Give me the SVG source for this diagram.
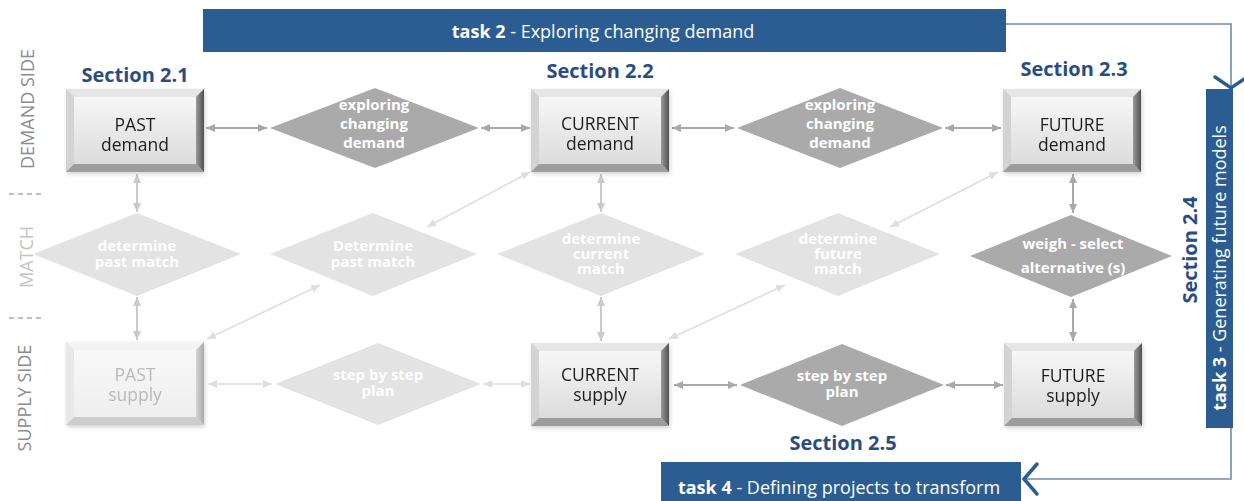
<svg xmlns="http://www.w3.org/2000/svg" xmlns:xlink="http://www.w3.org/1999/xlink" width="1244" height="501" viewBox="0 0 1244 501">
<style>
  .bar { fill: #2b5d93; }
  .bartxt { font-family: "Open Sans", "Liberation Sans", sans-serif; font-size: 18px; fill: #ffffff; }
  .sec { font-family: "Open Sans", "Liberation Sans", sans-serif; font-size: 20px; font-weight: bold; fill: #2a4c82; }
  .side { font-family: "Open Sans", "Liberation Sans", sans-serif; font-size: 18px; fill: #8c8c8c; }
  .side.light { fill: #c4c4c4; }
  .boxtxt { font-family: "Open Sans", "Liberation Sans", sans-serif; font-size: 17.5px; fill: #1e1e1e; text-anchor: middle; }
  .boxtxt.faded { fill: #b9b9b9; }
  .dtxt { font-family: "Open Sans", "Liberation Sans", sans-serif; font-size: 15px; font-weight: bold; fill: #ffffff; text-anchor: middle; }
  .dia-dark { fill: #aaaaaa; }
  .dia-light { fill: #e3e3e3; }
  .a-dark { stroke: #a9a9a9; stroke-width: 2; fill: none; marker-start: url(#mDark); marker-end: url(#mDark); }
  .a-mid { stroke: #cacaca; stroke-width: 2; fill: none; marker-start: url(#mMid); marker-end: url(#mMid); }
  .a-light { stroke: #dedede; stroke-width: 1.6; fill: none; marker-start: url(#mLight); marker-end: url(#mLight); }
  .blue-line { stroke: #6f8ab2; stroke-width: 1.6; fill: none; }
  .chev { stroke: #2b5d93; stroke-width: 3.5; fill: none; stroke-linecap: round; stroke-linejoin: miter; }
  .dash { stroke: #a8a8a8; stroke-width: 1.5; stroke-dasharray: 5 4; }
</style>
<defs>
  <marker id="mDark" markerUnits="userSpaceOnUse" markerWidth="10" markerHeight="8" refX="9" refY="4" orient="auto-start-reverse">
    <path d="M0,0 L9,4 L0,8 z" fill="#a9a9a9"/>
  </marker>
  <marker id="mMid" markerUnits="userSpaceOnUse" markerWidth="10" markerHeight="8" refX="9" refY="4" orient="auto-start-reverse">
    <path d="M0,0 L9,4 L0,8 z" fill="#cacaca"/>
  </marker>
  <marker id="mLight" markerUnits="userSpaceOnUse" markerWidth="10" markerHeight="8" refX="9" refY="4" orient="auto-start-reverse">
    <path d="M0,0 L9,4 L0,8 z" fill="#dedede"/>
  </marker>
  <linearGradient id="face" x1="0" y1="0" x2="0" y2="1">
    <stop offset="0" stop-color="#f6f6f6"/>
    <stop offset="1" stop-color="#dcdcdc"/>
  </linearGradient>
  <linearGradient id="faceF" x1="0" y1="0" x2="0" y2="1">
    <stop offset="0" stop-color="#f8f8f8"/>
    <stop offset="1" stop-color="#eeeeee"/>
  </linearGradient>
  <linearGradient id="rightB" x1="0" y1="0" x2="1" y2="0">
    <stop offset="0" stop-color="#9a9a9a"/>
    <stop offset="1" stop-color="#505050"/>
  </linearGradient>
  <linearGradient id="rightBF" x1="0" y1="0" x2="1" y2="0">
    <stop offset="0" stop-color="#d4d4d4"/>
    <stop offset="1" stop-color="#aaaaaa"/>
  </linearGradient>
  <filter id="shadow" x="-10%" y="-10%" width="125%" height="130%">
    <feDropShadow dx="1" dy="2" stdDeviation="2" flood-color="#000" flood-opacity="0.18"/>
  </filter>
  <g id="bevel">
    <rect x="0" y="0" width="138" height="83" fill="#cfcfcf"/>
    <polygon points="0,0 138,0 130,8 8,8" fill="#e6e6e6"/>
    <polygon points="0,0 8,8 8,75 0,83" fill="#d3d3d3"/>
    <polygon points="138,0 138,83 130,75 130,8" fill="url(#rightB)"/>
    <polygon points="0,83 138,83 130,75 8,75" fill="#9c9c9c"/>
    <rect x="8" y="8" width="122" height="67" fill="url(#face)"/>
  </g>
  <g id="bevelF">
    <rect x="0" y="0" width="138" height="83" fill="#e6e6e6"/>
    <polygon points="0,0 138,0 130,8 8,8" fill="#f3f3f3"/>
    <polygon points="0,0 8,8 8,75 0,83" fill="#e8e8e8"/>
    <polygon points="138,0 138,83 130,75 130,8" fill="url(#rightBF)"/>
    <polygon points="0,83 138,83 130,75 8,75" fill="#cdcdcd"/>
    <rect x="8" y="8" width="122" height="67" fill="url(#faceF)"/>
  </g>
</defs>

<rect width="1244" height="501" fill="#ffffff"/>

<!-- side labels -->
<g id="side-labels">
  <text class="side" transform="translate(34,109) rotate(-90)" text-anchor="middle">DEMAND SIDE</text>
  <text class="side light" transform="translate(33,257) rotate(-90)" text-anchor="middle">MATCH</text>
  <text class="side" transform="translate(31,398) rotate(-90)" text-anchor="middle">SUPPLY SIDE</text>
  <line class="dash" x1="9" y1="194" x2="42" y2="194"/>
  <line class="dash" x1="9" y1="318" x2="42" y2="318"/>
</g>

<!-- connectors -->
<g id="connectors">
  <line class="a-dark" x1="206" y1="128" x2="267" y2="128"/>
  <line class="a-dark" x1="481" y1="128" x2="530" y2="128"/>
  <line class="a-dark" x1="672" y1="128" x2="734" y2="128"/>
  <line class="a-dark" x1="945" y1="128" x2="1001" y2="128"/>

  <line class="a-mid" x1="137" y1="174" x2="137" y2="212"/>
  <line class="a-mid" x1="137" y1="297" x2="137" y2="340"/>
  <line class="a-mid" x1="601" y1="174" x2="601" y2="212"/>
  <line class="a-mid" x1="601" y1="297" x2="601" y2="341"/>
  <line class="a-dark" x1="1073" y1="174" x2="1073" y2="213"/>
  <line class="a-dark" x1="1073" y1="299" x2="1073" y2="341"/>

  <line class="a-light" x1="530" y1="172" x2="427" y2="227"/>
  <line class="a-light" x1="207" y1="339" x2="320" y2="285"/>
  <line class="a-light" x1="998" y1="172" x2="890" y2="227"/>
  <line class="a-light" x1="669" y1="339" x2="785" y2="285"/>

  <line class="a-light" x1="208" y1="384" x2="272" y2="384"/>
  <line class="a-light" x1="483" y1="384" x2="530" y2="384"/>
  <line class="a-dark" x1="674" y1="385" x2="737" y2="385"/>
  <line class="a-dark" x1="946" y1="385" x2="1003" y2="385"/>

  <polyline class="blue-line" points="1006,24 1231,24 1231,86"/>
  <polyline class="chev" points="1215,77 1231,88 1247,77"/>
  <polyline class="blue-line" points="1231,428 1231,479 1024,479"/>
  <polyline class="chev" points="1037,464 1024,479 1037,494"/>
</g>

<!-- task bars -->
<g id="task2">
  <rect class="bar" x="203" y="9" width="803" height="43"/>
  <text class="bartxt" x="603" y="38" text-anchor="middle"><tspan font-weight="bold">task 2</tspan> - Exploring changing demand</text>
</g>
<g id="task3">
  <rect class="bar" x="1206" y="89" width="27" height="339"/>
  <text class="bartxt" transform="translate(1226,268) rotate(-90)" text-anchor="middle" font-size="16.3"><tspan font-weight="bold">task 3</tspan> - Generating future models</text>
</g>
<g id="task4">
  <rect class="bar" x="661" y="462" width="360" height="39"/>
  <text class="bartxt" x="839" y="494" text-anchor="middle"><tspan font-weight="bold">task 4</tspan> - Defining projects to transform</text>
</g>

<!-- section labels -->
<g id="sections">
  <text class="sec" x="135" y="82" text-anchor="middle">Section 2.1</text>
  <text class="sec" x="600" y="78" text-anchor="middle">Section 2.2</text>
  <text class="sec" x="1074" y="76" text-anchor="middle">Section 2.3</text>
  <text class="sec" transform="translate(1197,250) rotate(-90)" text-anchor="middle" font-size="21">Section 2.4</text>
  <text class="sec" x="843" y="450" text-anchor="middle">Section 2.5</text>
</g>

<!-- boxes -->
<g id="past-demand" filter="url(#shadow)">
  <use href="#bevel" x="66" y="89"/>
  <text class="boxtxt" x="135" y="131">PAST</text>
  <text class="boxtxt" x="135" y="151">demand</text>
</g>
<g id="current-demand" filter="url(#shadow)">
  <use href="#bevel" x="531" y="89"/>
  <text class="boxtxt" x="600" y="130">CURRENT</text>
  <text class="boxtxt" x="600" y="150">demand</text>
</g>
<g id="future-demand" filter="url(#shadow)">
  <use href="#bevel" x="1003" y="89"/>
  <text class="boxtxt" x="1072" y="131">FUTURE</text>
  <text class="boxtxt" x="1072" y="151">demand</text>
</g>
<g id="past-supply" filter="url(#shadow)">
  <use href="#bevelF" x="66" y="342"/>
  <text class="boxtxt faded" x="135" y="381">PAST</text>
  <text class="boxtxt faded" x="135" y="401">supply</text>
</g>
<g id="current-supply" filter="url(#shadow)">
  <use href="#bevel" x="531" y="343"/>
  <text class="boxtxt" x="600" y="381">CURRENT</text>
  <text class="boxtxt" x="600" y="401">supply</text>
</g>
<g id="future-supply" filter="url(#shadow)">
  <use href="#bevel" x="1004" y="343"/>
  <text class="boxtxt" x="1073" y="382">FUTURE</text>
  <text class="boxtxt" x="1073" y="402">supply</text>
</g>

<!-- diamonds -->
<g id="explore-1">
  <polygon class="dia-dark" points="270,128 375,88 479,128 375,168"/>
  <text class="dtxt" x="374" y="110">exploring</text>
  <text class="dtxt" x="374" y="129">changing</text>
  <text class="dtxt" x="374" y="148">demand</text>
</g>
<g id="explore-2">
  <polygon class="dia-dark" points="737,128 840,88 943,128 840,168"/>
  <text class="dtxt" x="840" y="110">exploring</text>
  <text class="dtxt" x="840" y="129">changing</text>
  <text class="dtxt" x="840" y="148">demand</text>
</g>
<g id="match-past-1">
  <polygon class="dia-light" points="33,254 137,213 241,254 137,296"/>
  <text class="dtxt" x="137" y="251">determine</text>
  <text class="dtxt" x="137" y="267">past match</text>
</g>
<g id="match-past-2">
  <polygon class="dia-light" points="270,254 373,213 477,254 373,296"/>
  <text class="dtxt" x="373" y="251">Determine</text>
  <text class="dtxt" x="373" y="267">past match</text>
</g>
<g id="match-current">
  <polygon class="dia-light" points="497,254 601,213 705,254 601,296"/>
  <text class="dtxt" x="601" y="244">determine</text>
  <text class="dtxt" x="601" y="259">current</text>
  <text class="dtxt" x="601" y="274">match</text>
</g>
<g id="match-future">
  <polygon class="dia-light" points="735,254 838,213 940,254 838,296"/>
  <text class="dtxt" x="838" y="244">determine</text>
  <text class="dtxt" x="838" y="259">future</text>
  <text class="dtxt" x="838" y="274">match</text>
</g>
<g id="weigh-select">
  <polygon class="dia-dark" points="970,256 1071,215 1172,256 1071,297"/>
  <text class="dtxt" x="1073" y="249">weigh - select</text>
  <text class="dtxt" x="1073" y="273">alternative (s)</text>
</g>
<g id="step-1">
  <polygon class="dia-light" points="275,384 378,343 481,384 378,425"/>
  <text class="dtxt" x="378" y="380">step by step</text>
  <text class="dtxt" x="378" y="396">plan</text>
</g>
<g id="step-2">
  <polygon class="dia-dark" points="740,385 842,344 944,385 842,426"/>
  <text class="dtxt" x="842" y="381">step by step</text>
  <text class="dtxt" x="842" y="397">plan</text>
</g>
</svg>
